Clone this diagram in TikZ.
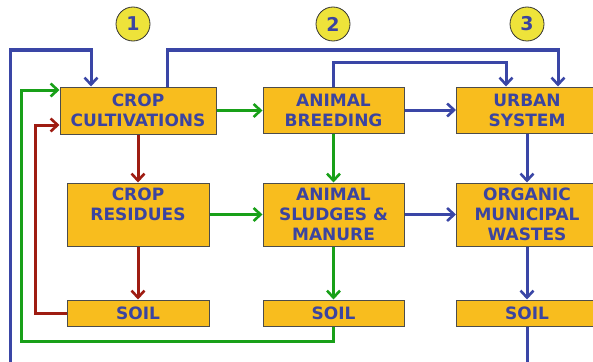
\documentclass[tikz,border=0pt]{standalone}
\usepackage{xcolor}
\usepackage{fontspec}
\setmainfont{DejaVu Sans}
\usepackage{tikz}
\usetikzlibrary{arrows.meta}
\definecolor{boxfill}{HTML}{F8BD1E}
\definecolor{txtblue}{HTML}{3B44A0}
\definecolor{lineblue}{HTML}{3A46A6}
\definecolor{linegreen}{HTML}{18A018}
\definecolor{linered}{HTML}{9E1C12}
\definecolor{circfill}{HTML}{EEE33A}
\tikzset{
  flowbox/.style={draw=black!70,line width=1pt,fill=boxfill,minimum width=141pt,align=center,
    inner sep=0pt,font=\fontsize{17}{20}\selectfont\bfseries,text=txtblue},
  numcirc/.style={circle,draw=black!80,line width=0.8pt,fill=circfill,minimum size=34pt,inner sep=0pt,
    font=\fontsize{19}{20}\selectfont\bfseries,text=txtblue},
  flow/.style={line width=3pt,-{Straight Barb[length=7pt,width=13pt,line width=2.6pt]}},
  bluflow/.style={flow,draw=lineblue},
  grnflow/.style={flow,draw=linegreen},
  redflow/.style={flow,draw=linered},
}

\begin{document}
\begin{tikzpicture}[x=1pt,y=-1pt]
  \useasboundingbox (0,0) rectangle (593,361);
  % column numbers
  \node[numcirc] (n1) at (133,24) {1};
  \node[numcirc] (n2) at (333,24) {2};
  \node[numcirc] (n3) at (527,24) {3};
  % boxes
  \node[flowbox,minimum width=156pt,minimum height=47pt] (cult) at (138,110.5) {CROP\\CULTIVATIONS};
  \node[flowbox,minimum height=46pt] (breed) at (333.5,110) {ANIMAL\\BREEDING};
  \node[flowbox,minimum height=46pt] (urban) at (527,110) {URBAN\\SYSTEM};
  \node[flowbox,minimum width=142pt,minimum height=63pt] (resid) at (138,214.5) {CROP\\RESIDUES\\[1pt]~};
  \node[flowbox,minimum height=63pt] (sludge) at (333.5,214.5) {ANIMAL\\SLUDGES \&\\MANURE};
  \node[flowbox,minimum height=63pt] (organic) at (527,214.5) {ORGANIC\\MUNICIPAL\\WASTES};
  \node[flowbox,minimum width=142pt,minimum height=26pt] (soil1) at (138,313) {SOIL};
  \node[flowbox,minimum height=26pt] (soil2) at (333.5,313) {SOIL};
  \node[flowbox,minimum height=26pt] (soil3) at (527,313) {SOIL};
  % free ends
  \coordinate (bin) at (10,366);
  \coordinate (bout) at (527,366);
  % column 1
  \draw[redflow] (cult) -- (resid);
  \draw[redflow] (resid) -- (soil1);
  \draw[redflow] (soil1.west) -| (35,125) -- (cult.west |- 0,125);
  \draw[bluflow] (bin) |- (91,50) -- (cult.north -| 91,0);
  % column 2
  \draw[grnflow] (cult.east) -- (cult.east -| breed.west);
  \draw[grnflow] (resid) -- (sludge);
  \draw[grnflow] (breed) -- (sludge);
  \draw[grnflow] (sludge) -- (soil2);
  \draw[grnflow] (soil2.south) -- (333.5,341) -| (21,90) -- (cult.west |- 0,90);
  % column 3
  \draw[bluflow] (cult.north -| 167,0) |- (558,50) -- (urban.north -| 558,0);
  \draw[bluflow] (breed.north) |- (506,62) -- (urban.north -| 506,0);
  \draw[bluflow] (breed) -- (urban);
  \draw[bluflow] (sludge) -- (organic);
  \draw[bluflow] (urban) -- (organic);
  \draw[bluflow] (organic) -- (soil3);
  \draw[line width=3pt,draw=lineblue] (soil3.south) -- (bout);
\end{tikzpicture}
\end{document}
